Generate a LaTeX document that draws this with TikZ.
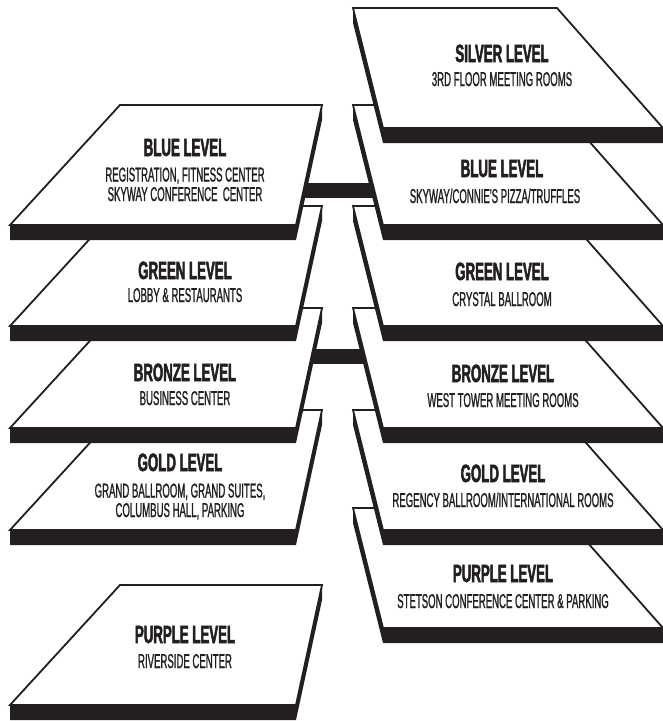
\documentclass[tikz,border=0pt]{standalone}
\usepackage{fontspec}
\usepackage{tikz}
\usetikzlibrary{positioning}

\newfontfamily\lvltitlefont{Liberation Sans Bold}[FakeStretch=0.53, FakeBold=2]
\newfontfamily\lvlsubfont{Liberation Sans}[FakeStretch=0.48, FakeBold=1]
\definecolor{ink}{RGB}{35,31,32}

\tikzset{
	slab/.style={fill=white, draw=ink, line width=1.8pt, line join=miter},
	lvltitle/.style={anchor=base, inner sep=0pt, text=ink, font=\lvltitlefont\fontsize{25}{25}\selectfont},
	lvlsub/.style={anchor=base, inner sep=0pt, text=ink, align=center, font=\lvlsubfont\fontsize{20}{19.5}\selectfont},
}

\begin{document}
\begin{tikzpicture}[x=1pt, y=-1pt]
		\useasboundingbox (0,0) rectangle (663,721);
		
		%skyway bars between the two towers
		\fill [ink] (300,183) rectangle (380,198);
		\fill [ink] (305,349) rectangle (370,364);
		
		%left tower, lowest slab first
		\foreach \t in {585,410,308,206,105}{
			\fill [ink] (10,\t+120) -- (296,\t+120) -- (322,\t) -- (322,\t+15) -- (296,\t+135) -- (10,\t+135) -- cycle;
			\draw [slab] (120,\t) -- (322,\t) -- (296,\t+120) -- (10,\t+120) -- cycle;
		}
		
		%right tower, lowest slab first
		\foreach \t in {508,410,308,206,105,8}{
			\fill [ink] (353,\t) -- (353,\t+15) -- (383,\t+135) -- (670,\t+135) -- (670,\t+120) -- (383,\t+120) -- cycle;
			\draw [slab] (353,\t) -- (557,\t) -- (663,\t+120) -- (383,\t+120) -- cycle;
		}
		
		%left tower labels (two-line labels sit on their last line)
		\node [lvltitle] (lblue) at (185,156) {BLUE LEVEL};
		\node [lvlsub] (lbluesub) at (185,201) {REGISTRATION, FITNESS CENTER\\SKYWAY CONFERENCE~ CENTER};
		
		\node [lvltitle] (lgreen) at (185,279) {GREEN LEVEL};
		\node [lvlsub] (lgreensub) at (185,302) {LOBBY \& RESTAURANTS};
		
		\node [lvltitle] (lbronze) at (185,381) {BRONZE LEVEL};
		\node [lvlsub] (lbronzesub) at (185,405) {BUSINESS CENTER};
		
		\node [lvltitle] (lgold) at (180,471) {GOLD LEVEL};
		\node [lvlsub] (lgoldsub) at (180,517) {GRAND BALLROOM, GRAND SUITES,\\COLUMBUS HALL, PARKING};
		
		\node [lvltitle] (lpurple) at (185,643) {PURPLE LEVEL};
		\node [lvlsub] (lpurplesub) at (185,668) {RIVERSIDE CENTER};
		
		%right tower labels
		\node [lvltitle] (rsilver) at (502,62) {SILVER LEVEL};
		\node [lvlsub] (rsilversub) at (502,86) {3RD FLOOR MEETING ROOMS};
		
		\node [lvltitle] (rblue) at (502,177) {BLUE LEVEL};
		\node [lvlsub] (rbluesub) at (495,203) {SKYWAY/CONNIE'S PIZZA/TRUFFLES};
		
		\node [lvltitle] (rgreen) at (502,280) {GREEN LEVEL};
		\node [lvlsub] (rgreensub) at (502,306) {CRYSTAL BALLROOM};
		
		\node [lvltitle] (rbronze) at (503,382) {BRONZE LEVEL};
		\node [lvlsub] (rbronzesub) at (503,407) {WEST TOWER MEETING ROOMS};
		
		\node [lvltitle] (rgold) at (503,482) {GOLD LEVEL};
		\node [lvlsub] (rgoldsub) at (503,507) {REGENCY BALLROOM/INTERNATIONAL ROOMS};
		
		\node [lvltitle] (rpurple) at (503,582) {PURPLE LEVEL};
		\node [lvlsub] (rpurplesub) at (503,608) {STETSON CONFERENCE CENTER \& PARKING};

	\end{tikzpicture}
\end{document}
